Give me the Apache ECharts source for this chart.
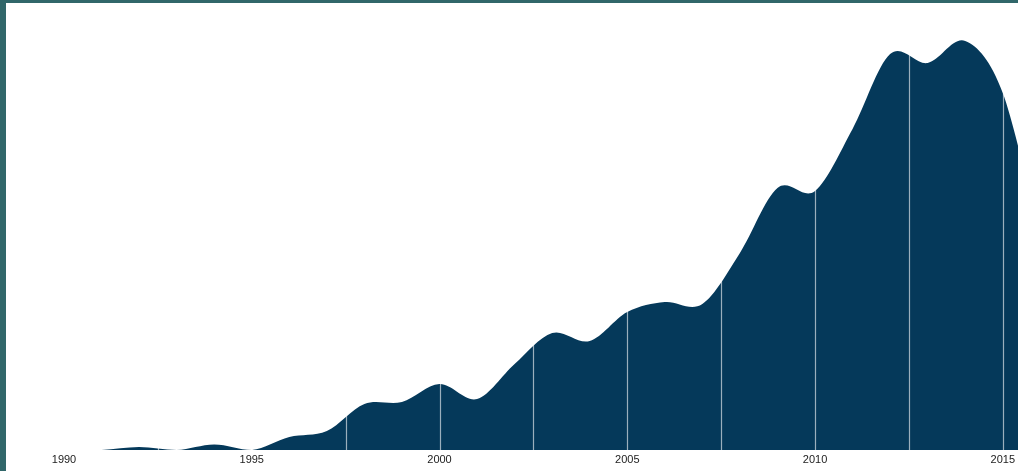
<!DOCTYPE html>
<html>
<head>
<meta charset="utf-8">
<script src="https://cdn.jsdelivr.net/npm/echarts@6/dist/echarts.min.js"></script>
<style>
  html, body { margin: 0; padding: 0; width: 1018px; height: 471px; overflow: hidden; background: #31676a; }
  #frame { position: absolute; left: 6px; top: 3px; width: 1012px; height: 468px; background: #ffffff; }
  #chart { position: absolute; left: 0; top: 0; width: 1012px; height: 468px; }
</style>
</head>
<body>
<div id="frame"><div id="chart"></div></div>
<script>
// Data (relative magnitude, one reading per year)
const years  = [1990, 1991, 1992, 1993, 1994, 1995, 1996, 1997, 1998, 1999, 2000, 2001, 2002, 2003, 2004, 2005, 2006, 2007, 2008, 2009, 2010, 2011, 2012, 2013, 2014, 2015, 2016];
const values = [0,    0,    3,    0,    5.5,  0,    13,   19,   46,   48,   66,   51,   86,   117,  109,  138,  148,  146,  197,  262,  259,  321,  396,  387,  409,  357,  210];
const guideYears = [1992.5, 1995, 1997.5, 2000, 2002.5, 2005, 2007.5, 2010, 2012.5, 2015];
const axisMin = 1990, axisMax = 2015.3, axisStep = 5, valueMax = 420;

const AREA = '#05395a';

function renderArea(params, api) {
  if (params.dataIndex !== 0) return null;
  const pts = [];
  for (let i = 0; i < years.length; i++) {
    pts.push(api.coord([api.value(0, i), api.value(1, i)]));
  }
  const base = api.coord([axisMin, 0])[1];
  const top = api.coord([axisMin, valueMax])[1];
  const clampY = y => Math.min(y, base);
  let d = 'M' + pts[0][0] + ' ' + base + ' L' + pts[0][0] + ' ' + pts[0][1];
  for (let i = 0; i < pts.length - 1; i++) {
    const p0 = pts[Math.max(i - 1, 0)], p1 = pts[i], p2 = pts[i + 1], p3 = pts[Math.min(i + 2, pts.length - 1)];
    const c1x = p1[0] + (p2[0] - p0[0]) / 6, c1y = clampY(p1[1] + (p2[1] - p0[1]) / 6);
    const c2x = p2[0] - (p3[0] - p1[0]) / 6, c2y = clampY(p2[1] - (p3[1] - p1[1]) / 6);
    d += ' C' + c1x + ' ' + c1y + ' ' + c2x + ' ' + c2y + ' ' + p2[0] + ' ' + p2[1];
  }
  d += ' L' + pts[pts.length - 1][0] + ' ' + base + ' Z';
  const children = [{
    type: 'path',
    shape: { pathData: d },
    style: { fill: AREA, stroke: null }
  }];
  guideYears.forEach(g => {
    const x = Math.round(api.coord([g, 0])[0]) + 0.5;
    children.push({
      type: 'line',
      shape: { x1: x, y1: base, x2: x, y2: top },
      style: { stroke: 'rgba(255,255,255,0.6)', lineWidth: 1.2 }
    });
  });
  return { type: 'group', children: children };
}

const chart = echarts.init(document.getElementById('chart'), null, { renderer: 'canvas' });
chart.setOption({
  animation: false,
  grid: { left: 58, right: 0, top: 27, bottom: 21 },
  xAxis: {
    type: 'value',
    min: axisMin,
    max: axisMax,
    interval: axisStep,
    axisLine: { show: false },
    axisTick: { show: false },
    splitLine: { show: false },
    axisLabel: {
      color: '#222',
      fontFamily: 'Liberation Sans, Arial, sans-serif',
      fontSize: 11,
      margin: 4,
      showMaxLabel: false,
      formatter: v => String(v)
    }
  },
  yAxis: {
    type: 'value',
    min: 0,
    max: valueMax,
    show: false,
    splitLine: { show: false }
  },
  series: [{
    type: 'custom',
    coordinateSystem: 'cartesian2d',
    silent: true,
    encode: { x: 0, y: 1 },
    data: years.map((y, i) => [y, values[i]]),
    renderItem: renderArea
  }]
});
</script>
</body>
</html>
